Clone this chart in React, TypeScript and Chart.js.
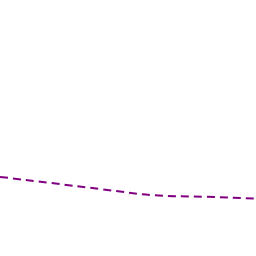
import React, { useEffect, useRef } from "react";
import { Chart, registerables } from "chart.js";

Chart.register(...registerables);

const categories = ["1", "2", "3", "4", "5", "6"];
const seriesValues = [30.9, 28.5, 26.05, 23.75, 23.15, 22.4];
const yMin = 0;
const yMax = 100;

export default function App() {
  const ref = useRef<HTMLCanvasElement | null>(null);
  useEffect(() => {
    document.body.style.margin = "0";
    const ctx = ref.current;
    if (!ctx) return;
    const chart = new Chart(ctx, {
      type: "line",
      data: {
        labels: categories,
        datasets: [
          {
            data: seriesValues,
            borderColor: "#800080",
            borderWidth: 2,
            borderDash: [8, 5],
            pointRadius: 0,
            tension: 0.4,
            fill: false,
          },
        ],
      },
      options: {
        responsive: false,
        animation: false,
        layout: { padding: 0 },
        plugins: { legend: { display: false }, tooltip: { enabled: false } },
        scales: {
          x: { display: false, offset: false },
          y: { display: false, min: yMin, max: yMax },
        },
      },
    });
    return () => chart.destroy();
  }, []);
  return <canvas ref={ref} width={256} height={256} style={{ display: "block" }} />;
}
